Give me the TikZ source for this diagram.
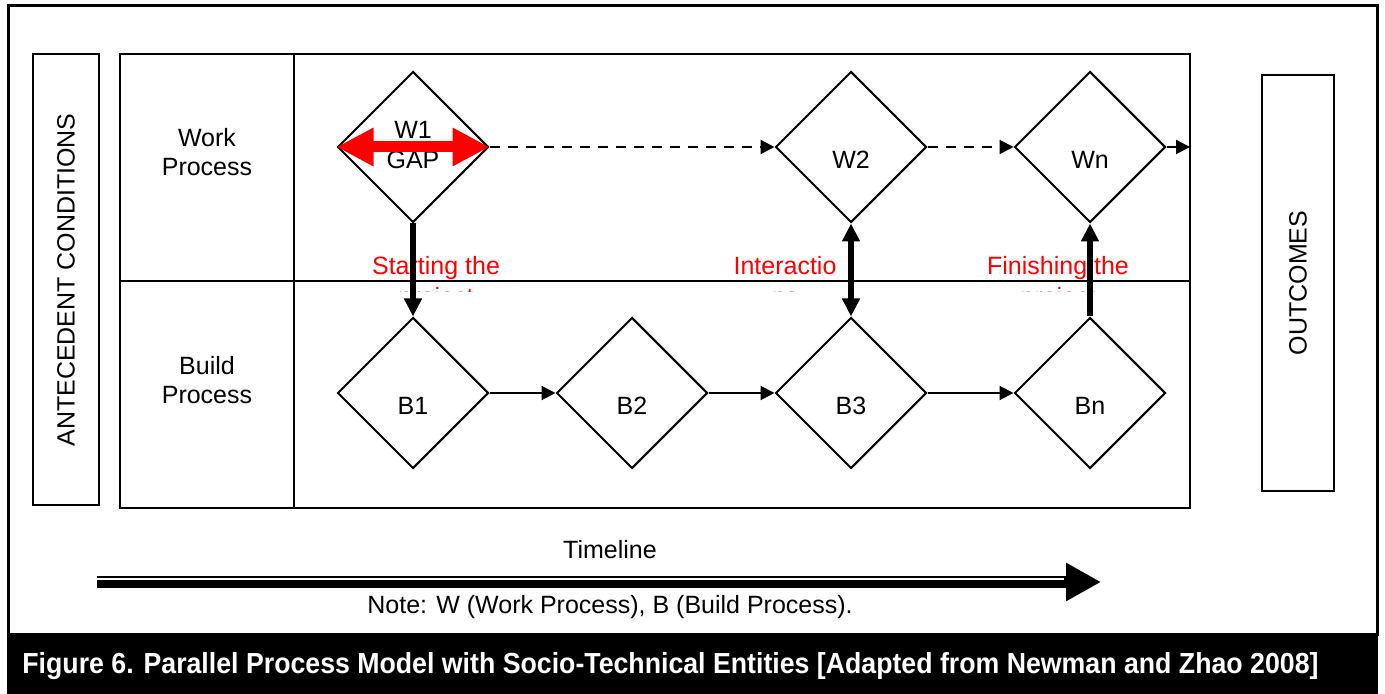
\documentclass[tikz,border=0pt]{standalone}
\usepackage{fontspec}
\setmainfont{Liberation Sans}
\usepackage{graphicx}
\usetikzlibrary{shapes.geometric,arrows.meta}
\begin{document}
\begin{tikzpicture}[x=0.5pt,y=-0.5pt,
  box/.style={draw,line width=1pt},
  dia/.style={diamond,draw,line width=1pt,minimum width=75.5pt,minimum height=75.5pt,inner sep=0pt,aspect=1},
  txt/.style={font=\fontsize{12.5pt}{14.5pt}\selectfont,align=center,inner sep=0pt},
  redlbl/.style={txt,text={rgb,255:red,255;green,0;blue,0}},
  flowarrow/.style={line width=1pt,-{Triangle[length=7pt,width=7pt]}},
  dasharrow/.style={flowarrow,dash pattern=on 5pt off 4pt},
  bigarrow/.style={line width=3pt,-{Triangle[length=9pt,width=8.5pt]}},
  bigdouble/.style={line width=3pt,{Triangle[length=9pt,width=8.5pt]}-{Triangle[length=9pt,width=8.5pt]}}
]
\useasboundingbox (0,0) rectangle (1385,694);
% outer border and caption bar
\draw[line width=1.5pt] (8,6) rectangle (1377,634);
\fill[black] (7,633) rectangle (1378,694);
\node[anchor=base west,inner sep=0pt,text=white] (cap) at (22,673)
  {\resizebox{648pt}{\height}{\fontsize{14.5pt}{16pt}\selectfont\bfseries Figure 6. Parallel Process Model with Socio-Technical Entities [Adapted from Newman and Zhao 2008]}};

% side boxes
\draw[box] (33,54) rectangle (99,505);
\node[txt,rotate=90] (ac) at (66,280) {ANTECEDENT CONDITIONS};
\draw[box] (1262,75) rectangle (1334,491);
\node[txt,rotate=90] (oc) at (1298,283) {OUTCOMES};

% red labels (second line clipped)
\begin{scope}
  \clip (340,245) rectangle (1180,292);
  \node[redlbl,anchor=base] (l1a) at (436,275) {Starting the};
  \node[redlbl,anchor=base] (l1b) at (436,306) {project};
  \node[redlbl,anchor=base] (l2a) at (785,275) {Interactio};
  \node[redlbl,anchor=base] (l2b) at (785,306) {ns};
  \node[redlbl,anchor=base] (l3a) at (1058,275) {Finishing the};
  \node[redlbl,anchor=base] (l3b) at (1058,306) {project};
\end{scope}

% main frame
\draw[box] (120,54) rectangle (1190,508);
\draw[box] (294,54) -- (294,508);
\draw[box] (120,281) -- (1190,281);
\node[txt] (wp) at (207,152) {Work\\Process};
\node[txt] (bp) at (207,380) {Build\\Process};

% diamonds
\node[dia] (w1) at (413,147) {};
\node[dia] (w2) at (851,147) {};
\node[dia] (wn) at (1090,147) {};
\node[dia] (b1) at (413,393) {};
\node[dia] (b2) at (632,393) {};
\node[dia] (b3) at (851,393) {};
\node[dia] (bn) at (1090,393) {};
\node[txt] (w1t) at (413,130) {W1};
\node[txt] (w1g) at (413,160) {GAP};
\node[txt] (w2t) at (851,160) {W2};
\node[txt] (wnt) at (1090,160) {Wn};
\node[txt] (b1t) at (413,406) {B1};
\node[txt] (b2t) at (632,406) {B2};
\node[txt] (b3t) at (851,406) {B3};
\node[txt] (bnt) at (1090,406) {Bn};

% red gap arrow
\draw[line width=5.5pt,draw={rgb,255:red,255;green,0;blue,0},fill={rgb,255:red,255;green,0;blue,0},
  {Triangle[length=18.5pt,width=18pt]}-{Triangle[length=18.5pt,width=18pt]}] (w1.west) -- (w1.east);

% connectors
\coordinate (fe) at (1190,147);
\draw[dasharrow] (w1.east) -- (w2.west);
\draw[dasharrow] (w2.east) -- (wn.west);
\draw[flowarrow] (wn.east) -- (fe);
\draw[flowarrow] (b1.east) -- (b2.west);
\draw[flowarrow] (b2.east) -- (b3.west);
\draw[flowarrow] (b3.east) -- (bn.west);
\draw[bigarrow] (w1.south) -- (b1.north);
\draw[bigdouble] (w2.south) -- (b3.north);
\draw[bigarrow] (bn.north) -- (wn.south);

% timeline
\node[txt] (tl) at (610,550) {Timeline};
\coordinate (tls) at (97,582);
\coordinate (tle) at (1101,582);
\draw[line width=6pt,-{Triangle[length=17.5pt,width=18pt]}] (tls) -- (tle);
\draw[white,line width=0.8pt] (97,579) -- (1064,579);
\node[txt] (note) at (610,607) {Note: W (Work Process), B (Build Process).};
\end{tikzpicture}
\end{document}
